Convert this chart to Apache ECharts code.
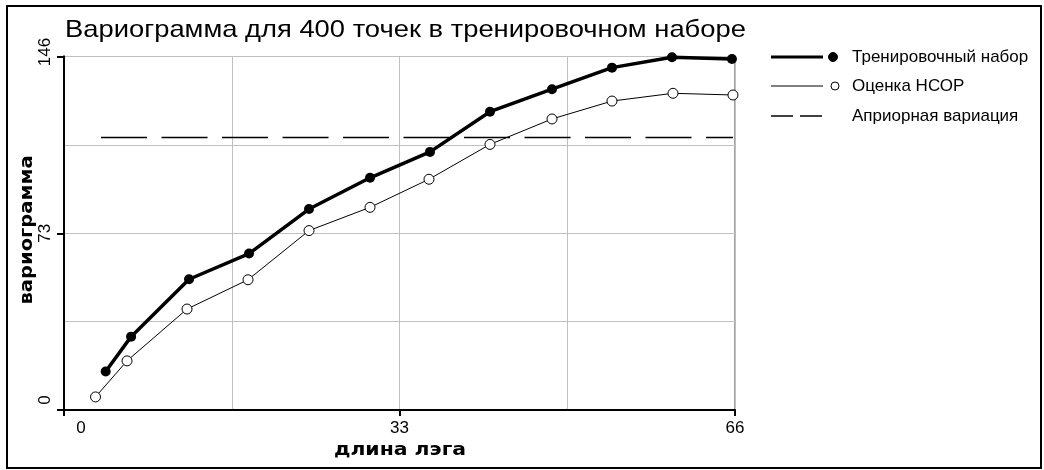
<!DOCTYPE html>
<html>
<head>
<meta charset="utf-8">
<script src="https://cdn.jsdelivr.net/npm/echarts@6/dist/echarts.min.js"></script>
<style>
html,body{margin:0;padding:0;background:#fff;}
#chart{width:1044px;height:470px;}
</style>
</head>
<body>
<div id="chart"></div>
<script>
const titleText = 'Вариограмма для 400 точек в тренировочном наборе';
const xAxisTitle = 'длина лэга';
const yAxisTitle = 'вариограмма';
const seriesNames = ['Тренировочный набор', 'Оценка НСОР', 'Априорная вариация'];
const xTickLabels = [0, 33, 66];
const yTickLabels = [0, 73, 146];
const lagTrain = [4.1, 6.6, 12.3, 18.2, 24.1, 30.1, 36.0, 41.9, 48.0, 53.9, 59.8, 65.7];
const gammaTrain = [15.9, 30.3, 54.0, 64.6, 83.0, 95.9, 106.6, 123.2, 132.5, 141.4, 145.7, 145.0];
const lagEst = [3.1, 6.2, 12.1, 18.1, 24.1, 30.1, 35.9, 41.9, 48.0, 53.9, 59.9, 65.8];
const gammaEst = [5.4, 20.3, 41.7, 53.8, 74.1, 83.7, 95.3, 109.7, 120.2, 127.6, 130.8, 130.1];
const prioriLag = [3.2, 65.8];
const prioriValue = 112.5;

const pair = (xs, ys) => xs.map((x, i) => [x, ys[i]]);
const FONT = 'Liberation Sans, Arial, sans-serif';
const BOLDFONT = 'bold 17px DejaVu Sans, sans-serif';

const chart = echarts.init(document.getElementById('chart'), null, {renderer: 'canvas'});

const legendY = [57, 86, 116];
const graphics = [
  {type: 'text', x: 65, y: 30, scaleX: 1.14, style: {text: titleText, font: '24px ' + FONT, fill: '#000', textVerticalAlign: 'middle', textAlign: 'left'}},
  {type: 'text', x: 28, y: 230, rotation: Math.PI / 2, scaleX: 1.15, style: {text: yAxisTitle, font: BOLDFONT, fill: '#000', textVerticalAlign: 'middle', textAlign: 'center'}},
  {type: 'text', x: 400, y: 451, scaleX: 1.2, style: {text: xAxisTitle, font: BOLDFONT, fill: '#000', textVerticalAlign: 'middle', textAlign: 'center'}},
  {type: 'line', shape: {x1: 771, y1: legendY[0], x2: 823, y2: legendY[0]}, style: {stroke: '#000', lineWidth: 3}},
  {type: 'circle', shape: {cx: 833, cy: legendY[0], r: 4.5}, style: {fill: '#000', stroke: '#000', lineWidth: 1}},
  {type: 'text', x: 852, y: legendY[0], style: {text: seriesNames[0], font: '17px ' + FONT, fill: '#000', textVerticalAlign: 'middle'}},
  {type: 'line', shape: {x1: 771, y1: legendY[1], x2: 823, y2: legendY[1]}, style: {stroke: '#000', lineWidth: 1}},
  {type: 'circle', shape: {cx: 835, cy: legendY[1], r: 4}, style: {fill: '#fff', stroke: '#000', lineWidth: 1}},
  {type: 'text', x: 852, y: legendY[1], style: {text: seriesNames[1], font: '17px ' + FONT, fill: '#000', textVerticalAlign: 'middle'}},
  {type: 'line', shape: {x1: 771, y1: legendY[2], x2: 793, y2: legendY[2]}, style: {stroke: '#000', lineWidth: 1.5}},
  {type: 'line', shape: {x1: 800, y1: legendY[2], x2: 822, y2: legendY[2]}, style: {stroke: '#000', lineWidth: 1.5}},
  {type: 'text', x: 852, y: legendY[2], style: {text: seriesNames[2], font: '17px ' + FONT, fill: '#000', textVerticalAlign: 'middle'}},
  {type: 'rect', shape: {x: 7, y: 6, width: 1034, height: 462}, style: {fill: 'none', stroke: '#000', lineWidth: 2}, silent: true}
];

const option = {
  backgroundColor: '#fff',
  animation: false,
  grid: {
    left: 64, right: 309, top: 56.5, bottom: 60,
    show: true, borderColor: '#444', borderWidth: 1, backgroundColor: '#fff'
  },
  xAxis: [
    {
      type: 'value', min: 0, max: 66, interval: 16.5,
      axisLine: {show: true, onZero: false, lineStyle: {color: '#000', width: 2}},
      axisTick: {show: false},
      axisLabel: {
        margin: 10, color: '#000', fontFamily: FONT, fontSize: 17,
        formatter: v => (xTickLabels.indexOf(v) >= 0 ? (v === 0 ? '{z|' + v + '}' : String(v)) : ''),
        rich: {z: {padding: [0, 0, 0, 34], fontFamily: FONT, fontSize: 17, color: '#000'}}
      },
      splitLine: {show: true, lineStyle: {color: '#c0c0c0', width: 1}}
    },
    {
      type: 'value', min: 0, max: 66, interval: 33, position: 'bottom',
      axisLine: {show: false}, axisLabel: {show: false}, splitLine: {show: false},
      axisTick: {show: true, length: 6, lineStyle: {color: '#000', width: 2}}
    }
  ],
  yAxis: [
    {
      type: 'value', min: 0, max: 146, interval: 36.5,
      axisLine: {show: true, onZero: false, lineStyle: {color: '#000', width: 2}},
      axisTick: {show: false},
      axisLabel: {
        rotate: 90, margin: 10, color: '#000', fontFamily: FONT, fontSize: 17,
        formatter: v => {
          if (yTickLabels.indexOf(v) < 0) return '';
          if (v === 0) return '{a|' + v + '}';
          if (v === 146) return '{b|' + v + '}';
          return String(v);
        },
        rich: {
          a: {padding: [0, 0, 0, 20], fontFamily: FONT, fontSize: 17, color: '#000'},
          b: {padding: [0, 0, 0, 9], fontFamily: FONT, fontSize: 17, color: '#000'}
        }
      },
      splitLine: {show: true, lineStyle: {color: '#c0c0c0', width: 1}}
    },
    {
      type: 'value', min: 0, max: 146, interval: 73, position: 'left',
      axisLine: {show: false}, axisLabel: {show: false}, splitLine: {show: false},
      axisTick: {show: true, length: 7, lineStyle: {color: '#000', width: 2}}
    },
    {
      type: 'value', min: 0, max: 146, position: 'right',
      axisLine: {show: true, lineStyle: {color: '#000', width: 2}},
      axisLabel: {show: false}, axisTick: {show: false}, splitLine: {show: false}
    }
  ],
  graphic: graphics,
  series: [
    {
      name: seriesNames[2], type: 'line', data: pair(prioriLag, prioriLag.map(() => prioriValue)),
      symbol: 'none', silent: true,
      lineStyle: {color: '#000', width: 1.5, type: [46, 14.5], dashOffset: 56}
    },
    {
      name: seriesNames[1], type: 'line', data: pair(lagEst, gammaEst),
      symbol: 'circle', symbolSize: 10, showAllSymbol: true,
      lineStyle: {color: '#000', width: 1},
      itemStyle: {color: '#fff', borderColor: '#000', borderWidth: 1}
    },
    {
      name: seriesNames[0], type: 'line', data: pair(lagTrain, gammaTrain),
      symbol: 'circle', symbolSize: 10, showAllSymbol: true,
      lineStyle: {color: '#000', width: 3.5},
      itemStyle: {color: '#000'}
    }
  ]
};
chart.setOption(option);
</script>
</body>
</html>
